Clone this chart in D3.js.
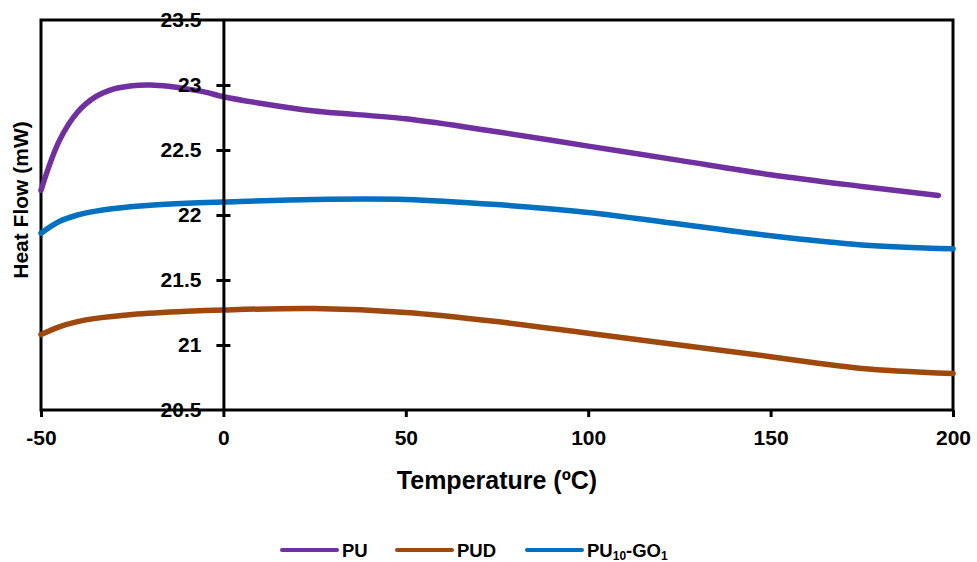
<!DOCTYPE html>
<html>
<head>
<meta charset="utf-8">
<script src="https://cdn.jsdelivr.net/npm/d3@7"></script>
<style>
  body { margin: 0; background: #fff; }
  text { font-family: "Liberation Sans", Arial, sans-serif; font-weight: bold; fill: #000; }
</style>
</head>
<body>
<div id="chart"></div>
<script>
// temperature (C) and heat flow (mW)
var puTemp  = [-50, -45, -40, -35, -30, -25, -20, -15, -10, -5, 0, 10, 25, 50, 75, 100, 125, 150, 175, 196];
var puFlow  = [22.19, 22.57, 22.79, 22.91, 22.97, 22.995, 23.0, 22.99, 22.97, 22.945, 22.91, 22.86, 22.8, 22.74, 22.64, 22.53, 22.42, 22.31, 22.22, 22.15];

var pudTemp = [-50, -45, -40, -35, -25, -10, 0, 25, 50, 75, 100, 125, 150, 163, 175, 200];
var pudFlow = [21.08, 21.14, 21.18, 21.205, 21.235, 21.26, 21.27, 21.28, 21.25, 21.18, 21.09, 21.0, 20.91, 20.86, 20.82, 20.78];

var goTemp  = [-50, -45, -40, -35, -30, -20, -10, 0, 25, 50, 75, 100, 125, 150, 175, 200];
var goFlow  = [21.86, 21.95, 22.0, 22.03, 22.05, 22.075, 22.09, 22.1, 22.12, 22.12, 22.08, 22.02, 21.93, 21.84, 21.77, 21.74];

var xTicks = [-50, 0, 50, 100, 150, 200];
var yTicks = [20.5, 21, 21.5, 22, 22.5, 23, 23.5];

(function(){
  var width = 977,
      height = 562;

  var svg = d3.select("#chart")
      .append("svg")
      .attr("width", width)
      .attr("height", height)

  var x = d3.scaleLinear().domain([-50, 200]).range([41, 953])
  var y = d3.scaleLinear().domain([20.5, 23.5]).range([410, 20])

  var series = [
    {name: "PU",  temp: puTemp,  flow: puFlow,  color: "#7030a0"},
    {name: "PUD", temp: pudTemp, flow: pudFlow, color: "#9e480e"},
    {name: "GO",  temp: goTemp,  flow: goFlow,  color: "#0070c0"}
  ]

  var line = d3.line()
      .x(function(d){ return x(d[0]) })
      .y(function(d){ return y(d[1]) })
      .curve(d3.curveCatmullRom.alpha(0.5))

  // plot frame
  svg.append("rect")
      .attr("x", x(-50))
      .attr("y", y(23.5))
      .attr("width", x(200) - x(-50))
      .attr("height", y(20.5) - y(23.5))
      .attr("fill", "none")
      .attr("stroke", "#000")
      .attr("stroke-width", 3)

  // x axis ticks along the bottom
  svg.append("g")
      .attr("transform", "translate(0," + y(20.5) + ")")
      .call(d3.axisBottom(x).tickValues(xTicks).tickSize(7).tickFormat(function(d){ return String(d) }))
      .call(function(g){
        g.select(".domain").remove()
        g.selectAll("line").attr("stroke-width", 3)
        g.selectAll("text").attr("font-size", 21).attr("dy", "1.2em").style("font-family", null)
      })

  // curves
  series.forEach(function(s){
    svg.append("path")
        .datum(d3.zip(s.temp, s.flow))
        .attr("fill", "none")
        .attr("stroke", s.color)
        .attr("stroke-width", 5.5)
        .attr("stroke-linecap", "round")
        .attr("d", line)
  })

  // y axis at x = 0 with crossing ticks
  var yAxis = svg.append("g")
      .attr("transform", "translate(" + x(0) + ",0)")
      .call(d3.axisLeft(y).tickValues(yTicks).tickSize(0).tickPadding(22).tickFormat(function(d){ return String(d) }))
  yAxis.select(".domain").attr("stroke-width", 3)
  yAxis.selectAll("text").attr("font-size", 21).style("font-family", null)
  yAxis.selectAll(".tick").filter(function(d){ return d > 20.5 && d < 23.5 })
      .append("line")
      .attr("x1", -7).attr("x2", 7)
      .attr("stroke", "#000")
      .attr("stroke-width", 3)

  // axis titles
  svg.append("text")
      .attr("x", (x(-50) + x(200)) / 2)
      .attr("y", 489)
      .attr("text-anchor", "middle")
      .attr("font-size", 25)
      .text("Temperature (ºC)")

  svg.append("text")
      .attr("transform", "translate(28,200) rotate(-90)")
      .attr("text-anchor", "middle")
      .attr("font-size", 21)
      .text("Heat Flow (mW)")

  // legend
  var legend = [
    {x: 282, color: "#7030a0"},
    {x: 397, color: "#9e480e"},
    {x: 527, color: "#0070c0"}
  ]
  legend.forEach(function(l, i){
    svg.append("line")
        .attr("x1", l.x).attr("x2", l.x + 55)
        .attr("y1", 550).attr("y2", 550)
        .attr("stroke", l.color)
        .attr("stroke-width", 4)
        .attr("stroke-linecap", "round")
    var t = svg.append("text")
        .attr("x", l.x + 60)
        .attr("y", 556.5)
        .attr("font-size", 18.5)
    if (i == 0) t.text("PU")
    if (i == 1) t.text("PUD")
    if (i == 2) {
      t.append("tspan").text("PU")
      t.append("tspan").attr("font-size", 12).attr("dy", 3).text("10")
      t.append("tspan").attr("dy", -3).text("-GO")
      t.append("tspan").attr("font-size", 12).attr("dy", 3).text("1")
    }
  })
})();
</script>
</body>
</html>
